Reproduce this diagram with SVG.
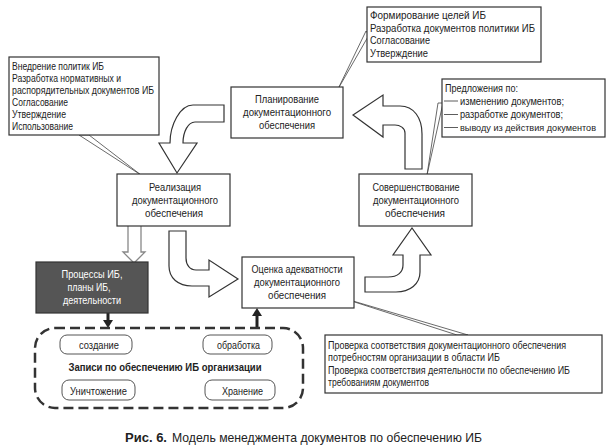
<svg xmlns="http://www.w3.org/2000/svg" width="613" height="448" viewBox="0 0 613 448">
<defs>
<style>
text{font-family:"Liberation Sans",Arial,sans-serif;fill:#222;}
.t{font-size:10.5px;}
.n{font-size:10.5px;text-anchor:middle;}
.box{fill:#fff;stroke:#333;stroke-width:1.2;}
.call{fill:#fff;stroke:#444;stroke-width:0.8;}
.big{fill:#fff;stroke:#333;stroke-width:1.2;stroke-linejoin:miter;}
.pill{fill:#fff;stroke:#555;stroke-width:1;}
</style>
</defs>
<rect width="613" height="448" fill="#fff"/>

<g id="connectors">
  <polygon class="call" points="79,135 89,135 141,175"/>
  <polygon class="call" points="366,31 369,35 338,89"/>
  <polygon class="call" points="438,103 443,103 427,175"/>
  <polygon class="call" points="336,296 457,335 468,335"/>
  <path class="big" d="M224,105 L193,105 C180,105 170,125 170,143 L159,143 L177,173 L197,143 L183,143 C183,132 188,122 195,122 L224,122 Z"/>
  <path class="big" d="M422,169 L422,134 C422,118 414,106 400,106 L383,106 L383,95 L353,115 L383,137 L383,125 L395,125 C400,125 405,128 405,133 L405,169 Z"/>
  <path class="big" d="M365,277 L388,277 C398,277 403,272 403,265 L403,255 L393,255 L412,228 L431,255 L420,255 L420,272 C420,284 410,292 396,292 L365,292 Z"/>
  <path class="big" d="M169,231 L169,266 C169,278 178,286 192,286 L209,286 L209,297 L238,279 L209,260 L209,270 L196,270 C190,270 186,265 186,258 L186,231 Z"/>
  <path d="M128,226 L128,252 L123,252 L134,263 L145,252 L141,252 L141,226" fill="#fff" stroke="#888" stroke-width="1.3"/>
  <line x1="108" y1="313" x2="108" y2="321" stroke="#222" stroke-width="3"/>
  <polygon points="103,320 113,320 108,328" fill="#222"/>
  <line x1="257" y1="329" x2="257" y2="315" stroke="#222" stroke-width="3"/>
  <polygon points="252,316 262,316 257,308" fill="#222"/>
</g>

<g id="note-realization">
  <rect class="box" x="9" y="57" width="150" height="78"/>
  <text class="t" x="12" y="70" textLength="92" lengthAdjust="spacingAndGlyphs">Внедрение политик ИБ</text>
  <text class="t" x="12" y="82" textLength="109" lengthAdjust="spacingAndGlyphs">Разработка нормативных и</text>
  <text class="t" x="12" y="94" textLength="142" lengthAdjust="spacingAndGlyphs">распорядительных документов ИБ</text>
  <text class="t" x="12" y="106" textLength="56" lengthAdjust="spacingAndGlyphs">Согласование</text>
  <text class="t" x="12" y="118" textLength="54" lengthAdjust="spacingAndGlyphs">Утверждение</text>
  <text class="t" x="12" y="130" textLength="61" lengthAdjust="spacingAndGlyphs">Использование</text>
</g>

<g id="note-planning">
  <rect class="box" x="367" y="7" width="174" height="55"/>
  <text class="t" x="370" y="19" font-size="11" textLength="116" lengthAdjust="spacingAndGlyphs">Формирование целей ИБ</text>
  <text class="t" x="370" y="31.5" font-size="11" textLength="165" lengthAdjust="spacingAndGlyphs">Разработка документов политики ИБ</text>
  <text class="t" x="370" y="44" font-size="11" textLength="60" lengthAdjust="spacingAndGlyphs">Согласование</text>
  <text class="t" x="370" y="56.5" font-size="11" textLength="58" lengthAdjust="spacingAndGlyphs">Утверждение</text>
</g>

<g id="note-improvement">
  <rect class="box" x="442" y="79" width="163" height="58"/>
  <text class="t" x="445" y="92" textLength="73" lengthAdjust="spacingAndGlyphs">Предложения по:</text>
  <line x1="444" y1="101" x2="458" y2="101" stroke="#333" stroke-width="0.8"/>
  <text class="t" x="460" y="104.5" textLength="104" lengthAdjust="spacingAndGlyphs">изменению документов;</text>
  <line x1="444" y1="114.5" x2="458" y2="114.5" stroke="#333" stroke-width="0.8"/>
  <text class="t" x="460" y="118" textLength="103" lengthAdjust="spacingAndGlyphs">разработке документов;</text>
  <line x1="444" y1="127.5" x2="458" y2="127.5" stroke="#333" stroke-width="0.8"/>
  <text x="460" y="131" font-size="9.5" textLength="136" lengthAdjust="spacingAndGlyphs">выводу из действия документов</text>
</g>

<g id="note-assessment">
  <rect class="box" x="325" y="335" width="277" height="58"/>
  <text class="t" x="328" y="349" font-size="10" textLength="238" lengthAdjust="spacingAndGlyphs">Проверка соответствия документационного обеспечения</text>
  <text class="t" x="328" y="361" font-size="10" textLength="172" lengthAdjust="spacingAndGlyphs">потребностям организации в области ИБ</text>
  <text class="t" x="328" y="373.5" font-size="10" textLength="242" lengthAdjust="spacingAndGlyphs">Проверка соответствия деятельности по обеспечению ИБ</text>
  <text class="t" x="328" y="386" font-size="10" textLength="101" lengthAdjust="spacingAndGlyphs">требованиям документов</text>
</g>

<g id="planning">
  <rect class="box" x="231" y="87" width="112" height="51"/>
  <text class="n" x="287" y="103" textLength="64" lengthAdjust="spacingAndGlyphs">Планирование</text>
  <text class="n" x="287" y="116" textLength="88" lengthAdjust="spacingAndGlyphs">документационного</text>
  <text class="n" x="287" y="129" textLength="56" lengthAdjust="spacingAndGlyphs">обеспечения</text>
</g>

<g id="realization">
  <rect class="box" x="117" y="174" width="113" height="52"/>
  <text class="n" x="175" y="191" textLength="52" lengthAdjust="spacingAndGlyphs">Реализация</text>
  <text class="n" x="175" y="204" textLength="86" lengthAdjust="spacingAndGlyphs">документационного</text>
  <text class="n" x="174" y="217" textLength="58" lengthAdjust="spacingAndGlyphs">обеспечения</text>
</g>

<g id="improvement">
  <rect class="box" x="359" y="174" width="113" height="52"/>
  <text class="n" x="416" y="191" textLength="87" lengthAdjust="spacingAndGlyphs">Совершенствование</text>
  <text class="n" x="416" y="204" textLength="86" lengthAdjust="spacingAndGlyphs">документационного</text>
  <text class="n" x="415" y="217" textLength="60" lengthAdjust="spacingAndGlyphs">обеспечения</text>
</g>

<g id="assessment">
  <rect class="box" x="242" y="257" width="112" height="51"/>
  <text class="n" x="297" y="273" textLength="91" lengthAdjust="spacingAndGlyphs">Оценка адекватности</text>
  <text class="n" x="297" y="286" textLength="86" lengthAdjust="spacingAndGlyphs">документационного</text>
  <text class="n" x="297" y="299" textLength="58" lengthAdjust="spacingAndGlyphs">обеспечения</text>
</g>

<g id="processes">
  <rect x="36" y="262" width="112" height="51" fill="#555" stroke="#333" stroke-width="1.2"/>
  <text class="n" x="92" y="278" style="fill:#fff" textLength="61" lengthAdjust="spacingAndGlyphs">Процессы ИБ,</text>
  <text class="n" x="89" y="291" style="fill:#fff" textLength="43" lengthAdjust="spacingAndGlyphs">планы ИБ,</text>
  <text class="n" x="92" y="304" style="fill:#fff" textLength="58" lengthAdjust="spacingAndGlyphs">деятельности</text>
</g>

<g id="records">
  <rect x="35" y="328" width="268" height="80" rx="20" ry="20" fill="none" stroke="#333" stroke-width="2.5" stroke-dasharray="10 5"/>
  <text x="165" y="371" font-size="10.5" font-weight="bold" text-anchor="middle" textLength="193" lengthAdjust="spacingAndGlyphs">Записи по обеспечению ИБ организации</text>
</g>
<g id="create">
  <rect class="pill" x="60" y="335" width="72" height="19" rx="7"/>
  <text class="n" x="99" y="349" textLength="40" lengthAdjust="spacingAndGlyphs">создание</text>
</g>
<g id="process">
  <rect class="pill" x="203" y="335" width="69" height="19" rx="7"/>
  <text class="n" x="238.5" y="349" textLength="43" lengthAdjust="spacingAndGlyphs">обработка</text>
</g>
<g id="destroy">
  <rect class="pill" x="62" y="380" width="73" height="20" rx="7"/>
  <text class="n" x="98.5" y="395" textLength="57" lengthAdjust="spacingAndGlyphs">Уничтожение</text>
</g>
<g id="store">
  <rect class="pill" x="205" y="380" width="70" height="20" rx="7"/>
  <text class="n" x="242.5" y="395" textLength="41" lengthAdjust="spacingAndGlyphs">Хранение</text>
</g>

<g id="caption">
  <text x="125" y="442" font-size="13" font-weight="bold" textLength="42" lengthAdjust="spacingAndGlyphs">Рис. 6.</text>
  <text x="172" y="442" font-size="13" textLength="310" lengthAdjust="spacingAndGlyphs">Модель менеджмента документов по обеспечению ИБ</text>
</g>
</svg>
